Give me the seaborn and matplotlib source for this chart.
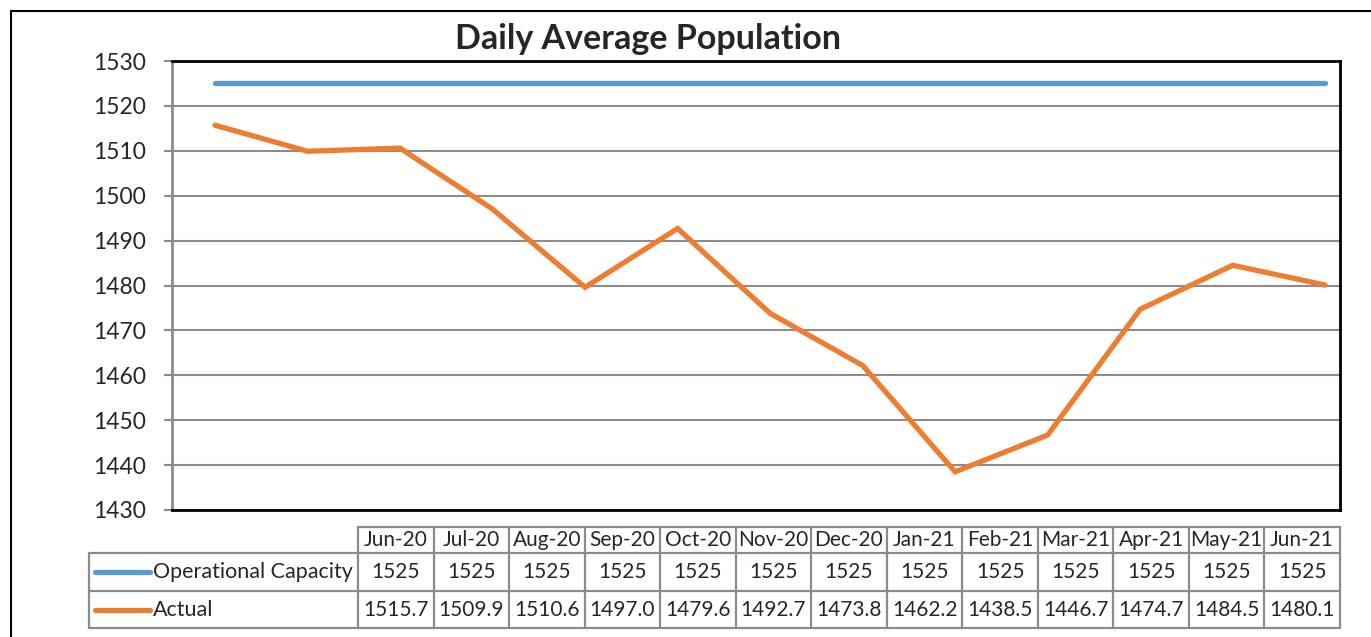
import numpy as np
import pandas as pd
import seaborn as sns
import matplotlib.pyplot as plt
from matplotlib.lines import Line2D

months = ["Jun-20", "Jul-20", "Aug-20", "Sep-20", "Oct-20", "Nov-20", "Dec-20",
          "Jan-21", "Feb-21", "Mar-21", "Apr-21", "May-21", "Jun-21"]
capacity = [1525] * 13
actual = [1515.7, 1509.9, 1510.6, 1497.0, 1479.6, 1492.7, 1473.8,
          1462.2, 1438.5, 1446.7, 1474.7, 1484.5, 1480.1]
series_names = ["Operational Capacity", "Actual"]

blue = "#5B9BD5"
orange = "#ED7D31"
grid_gray = "#8C8C8C"

sns.set_style("white")
plt.rcParams["font.family"] = ["Lato", "DejaVu Sans"]

W, H = 1371, 637
fig = plt.figure(figsize=(W / 100, H / 100), dpi=100)

# outer chart frame (open on right and bottom like the crop)
fig.add_artist(Line2D([11 / W, 1.0], [1 - 11 / H, 1 - 11 / H], color="black", lw=1.5))
fig.add_artist(Line2D([11 / W, 11 / W], [0, 1 - 11 / H], color="black", lw=1.5))

df = pd.DataFrame({
    "idx": np.arange(len(months)),
    "Operational Capacity": capacity,
    "Actual": actual,
})

ax = fig.add_axes([172 / W, 1 - 510 / H, (1340 - 172) / W, (510 - 61) / H])
sns.lineplot(data=df, x="idx", y="Operational Capacity", color=blue, lw=3.8,
             ax=ax, solid_capstyle="round")
sns.lineplot(data=df, x="idx", y="Actual", color=orange, lw=3.8, ax=ax,
             solid_joinstyle="miter")

ax.set_ylim(1430, 1530)
ax.set_xlim(-0.465, 12.16)
ax.set_yticks(np.arange(1430, 1531, 10))
ax.set_xticks([])
ax.set_xlabel("")
ax.set_ylabel("")
ax.yaxis.grid(True, color=grid_gray, lw=1.5)
ax.set_axisbelow(True)
ax.tick_params(axis="y", left=True, length=6, width=1.5, color=grid_gray,
               labelsize=16.5, pad=13)
for s in ["top", "right", "bottom"]:
    ax.spines[s].set_color("black")
    ax.spines[s].set_linewidth(2)
ax.spines["left"].set_color(grid_gray)
ax.spines["left"].set_linewidth(2)

fig.text(648 / W, 1 - 39 / H, "Daily Average Population", ha="center", va="center",
         fontsize=24.5, fontweight="bold")

# data table below the plot
tax = fig.add_axes([89 / W, 1 - 628 / H, (1340 - 89) / W, (628 - 527) / H])
lab_w = 269 / ((1340 - 358) / 13)
ncol = len(months)
tax.set_xlim(-lab_w, ncol)
tax.set_ylim(101, 0)
tax.axis("off")
row_edges = [0, 26, 64, 101]
lkw = dict(color=grid_gray, lw=1.6, clip_on=False)
tax.plot([0, ncol], [0, 0], **lkw)
for y in row_edges[1:]:
    tax.plot([-lab_w, ncol], [y, y], **lkw)
for x in range(ncol + 1):
    tax.plot([x, x], [0, 101], **lkw)
tax.plot([-lab_w, -lab_w], [26, 101], **lkw)

fs = 15
for i, m in enumerate(months):
    tax.text(i + 0.5, 13, m, ha="center", va="center", fontsize=fs)
    tax.text(i + 0.5, 45, f"{capacity[i]}", ha="center", va="center", fontsize=fs)
    tax.text(i + 0.5, 82.5, f"{actual[i]:.1f}", ha="center", va="center", fontsize=fs)

px = (1340 - 358) / 13
for name, col, yc in zip(series_names, [blue, orange], [45, 82.5]):
    x0 = -lab_w + (95 - 89) / px
    x1 = -lab_w + (150 - 89) / px
    tax.plot([x0, x1], [yc, yc], color=col, lw=3.8, solid_capstyle="round", clip_on=False)
    tax.text(-lab_w + (153 - 89) / px, yc, name, ha="left", va="center", fontsize=fs + 0.5)

plt.savefig("out.png", dpi=100)
